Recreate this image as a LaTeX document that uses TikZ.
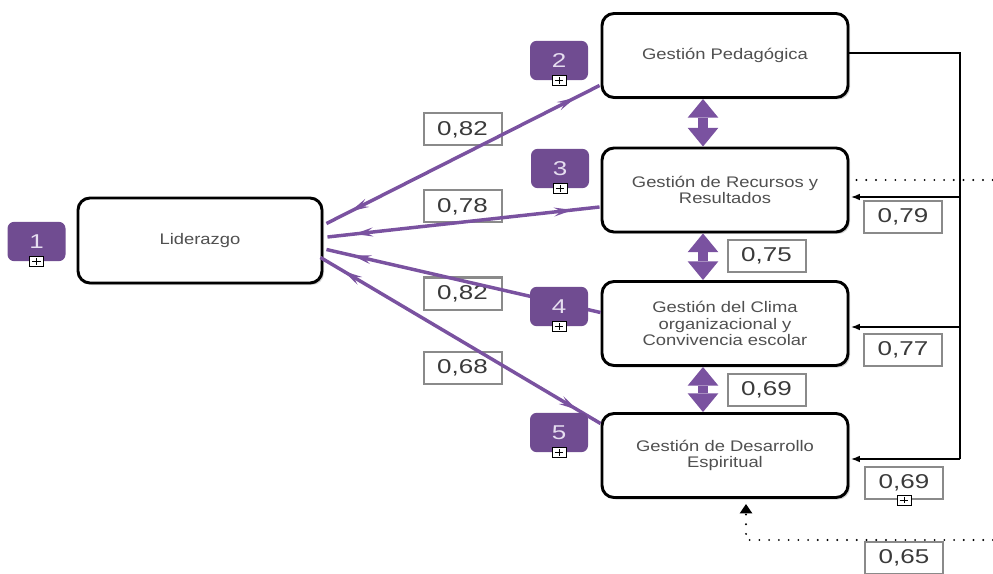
\documentclass[tikz,border=0pt]{standalone}
\usepackage{fontspec}
\setmainfont{Liberation Sans}
\newfontfamily\boxfont[FakeStretch=1.2]{Liberation Sans}
\newfontfamily\numfont[FakeStretch=1.3]{Liberation Sans}
\usetikzlibrary{arrows.meta,shadows,decorations.markings,calc}
\definecolor{badgepurple}{RGB}{112,76,145}
\definecolor{arrowpurple}{RGB}{122,82,160}
\definecolor{badgetext}{RGB}{230,222,240}
\definecolor{boxtext}{RGB}{80,80,80}
\definecolor{numtext}{RGB}{58,58,58}
\definecolor{labelgray}{RGB}{138,138,138}
\begin{document}
\begin{tikzpicture}[x=0.75pt,y=-0.75pt,
  mainbox/.style={draw=black, line width=2.2pt, rounded corners=9pt, fill=white,
    minimum width=184.5pt, minimum height=63pt, align=center, inner sep=0pt,
    font=\boxfont\fontsize{11.5}{12.6}\selectfont, text=boxtext,
    drop shadow={shadow xshift=1.5pt, shadow yshift=-1.5pt, opacity=0.35}},
  lbl/.style={draw=labelgray, line width=1.5pt, minimum width=58.5pt, minimum height=24pt,
    inner sep=0pt, font=\numfont\fontsize{15}{15}\selectfont, text=numtext},
  badge/.style={fill=badgepurple, rounded corners=5pt, minimum width=43.5pt, minimum height=29.5pt,
    inner sep=0pt, text=badgetext, font=\numfont\fontsize{15}{15}\selectfont},
  plusbox/.style={draw=black, fill=white, line width=0.7pt, minimum width=10.5pt, minimum height=7.5pt,
    inner sep=0pt, path picture={
      \draw[line width=0.7pt] ([yshift=-1.3pt]path picture bounding box.north) -- ([yshift=1.3pt]path picture bounding box.south);
      \draw[line width=0.7pt] ([xshift=2pt]path picture bounding box.west) -- ([xshift=-2pt]path picture bounding box.east);}},
  plink/.style={draw=arrowpurple, line width=2.6pt, postaction={decorate},
    decoration={markings,
      mark=at position 20pt with {\arrowreversed[arrowpurple]{Stealth[length=14pt,width=6.5pt,inset=5pt]}},
      mark=at position -20pt with {\arrow[arrowpurple]{Stealth[length=14pt,width=6.5pt,inset=5pt]}}}},
  vdouble/.style={draw=arrowpurple, line width=7pt,
    {Triangle[length=14pt,width=23pt,line width=0pt]}-{Triangle[length=14pt,width=23pt,line width=0pt]}},
  conn/.style={draw=black, line width=1.5pt},
  carr/.style={conn, -{Latex[length=7pt,width=5pt]}},
  dots/.style={draw=black, line width=1.6pt, dash pattern=on 0pt off 7.3pt, line cap=round}
]
\useasboundingbox (0,0) rectangle (993,574);

% main boxes
\node[mainbox, minimum width=183pt, minimum height=63.75pt] (Lid) at (200,240.5) {Liderazgo};
\node[mainbox] (Ped) at (725,55.5) {Gestión Pedagógica};
\node[mainbox] (Rec) at (725,190) {Gestión de Recursos y\\Resultados};
\node[mainbox] (Cli) at (725,323.5) {Gestión del Clima\\organizacional y\\Convivencia escolar};
\node[mainbox] (Des) at (725,455.5) {Gestión de Desarrollo\\Espiritual};

% value labels
\node[lbl] (La) at (462.5,129.5) {0,82};
\node[lbl] (Lb) at (462.5,206.5) {0,78};
\node[lbl] (Lc) at (462.5,293.5) {0,82};
\node[lbl] (Ld) at (462.5,367.5) {0,68};
\node[lbl] (Le) at (766.5,256) {0,75};
\node[lbl] (Lf) at (766.5,390) {0,69};
\node[lbl] (Lg) at (903,217) {0,79};
\node[lbl] (Lh) at (903,349.5) {0,77};
\node[lbl] (Li) at (904,483) {0,69};
\node[lbl] (Lj) at (904,558) {0,65};

% purple links from Liderazgo
\draw[plink] ($(Lid.east)+(3,-17)$) -- ($(Ped.west)+(-1,30)$);
\draw[plink] ($(Lid.east)+(4,-3.5)$) -- ($(Rec.west)+(-1,17)$);
\draw[plink] ($(Lid.east)+(3,9)$) -- ($(Cli.west)+(0,-11)$);
\draw[plink] ($(Lid.east)+(-3,17)$) -- ($(Des.west)+(0,-32)$);

% vertical double arrows
\draw[vdouble] ($(Ped.south)+(-22,0)$) -- ($(Rec.north)+(-22,0)$);
\draw[vdouble] ($(Rec.south)+(-22,0)$) -- ($(Cli.north)+(-22,0)$);
\draw[vdouble] ($(Cli.south)+(-22,0)$) -- ($(Des.north)+(-22,0)$);

% badges
\node[badge] (B1) at (36.5,241.5) {1};
\node[badge] (B2) at (559,60.5) {2};
\node[badge] (B3) at (560,168.5) {3};
\node[badge] (B4) at (559,306.5) {4};
\node[badge] (B5) at (559,432.5) {5};
\node[plusbox] (P1) at (B1.south) {};
\node[plusbox] (P2) at (B2.south) {};
\node[plusbox] (P3) at (B3.south) {};
\node[plusbox] (P4) at (B4.south) {};
\node[plusbox] (P5) at (B5.south) {};
\node[plusbox] (P6) at (Li.south) {};

% right-hand feedback connectors
\coordinate (rtop) at (960,53);
\coordinate (rbot) at (960,459);
\coordinate (recIn) at ($(Rec.east)+(1,7)$);
\coordinate (cliIn) at ($(Cli.east)+(1,3.5)$);
\coordinate (desIn) at ($(Des.east)+(1,3.5)$);
\draw[conn] ($(Ped.east)+(0,-2.5)$) -- (rtop) -- (rbot);
\draw[carr] (rtop |- recIn) -- (recIn);
\draw[carr] (rtop |- cliIn) -- (cliIn);
\draw[carr] (rbot) -- (desIn);

% dotted lines
\coordinate (dtE) at (993,180);
\draw[dots] ($(Rec.east)+(7,-10)$) -- (dtE);
\coordinate (dbE) at (993,540);
\coordinate (dbC) at (746,540);
\draw[dots, -{Triangle[length=7pt,width=9pt]}] (dbE) -- (dbC) -- ($(Des.south)+(21,5)$);
\end{tikzpicture}
\end{document}
